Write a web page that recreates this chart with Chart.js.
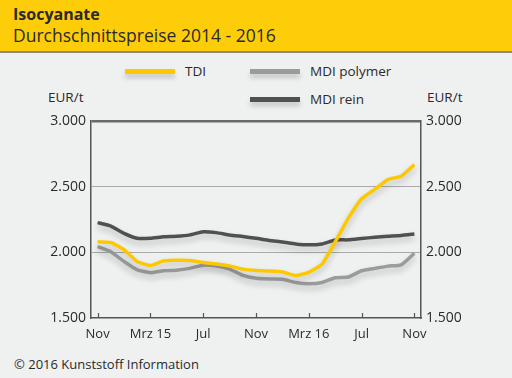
<!DOCTYPE html>
<html>
<head>
<meta charset="utf-8">
<script src="https://cdn.jsdelivr.net/npm/chart.js@4.4.0/dist/chart.umd.min.js"></script>
<style>
  html, body { margin: 0; padding: 0; }
  body { width: 512px; height: 378px; background: #eff1f0; position: relative; overflow: hidden;
         font-family: "Open Sans", "Noto Sans", sans-serif; color: #2a2a2a; }
  #head { position: absolute; left: 0; top: 0; width: 512px; height: 51px; background: #fecd0a;
          border-bottom: 2px solid #8c8a7c; }
  #t1 { position: absolute; left: 13px; top: 3px; font-size: 16px; font-weight: bold; }
  #t2 { position: absolute; left: 13px; top: 23px; font-size: 17.5px; }
  .lg { position: absolute; height: 5px; width: 50px; box-shadow: 0 4px 5px rgba(0,0,0,0.18); }
  .lt { position: absolute; font-size: 13.5px; line-height: 16px; }
  #foot { position: absolute; left: 14px; top: 355px; font-size: 13px; }
  #wrap { position: absolute; left: 0; top: 0; width: 512px; height: 378px; }
</style>
</head>
<body>
<div id="head"><div id="t1">Isocyanate</div><div id="t2">Durchschnittspreise 2014 - 2016</div></div>
<div class="lg" style="left:125px;top:69px;background:#fdc800"></div>
<div class="lt" style="left:185px;top:63px">TDI</div>
<div class="lg" style="left:250px;top:69px;background:#9b9b9b"></div>
<div class="lt" style="left:310px;top:63px">MDI polymer</div>
<div class="lg" style="left:250px;top:97px;background:#505050"></div>
<div class="lt" style="left:310px;top:91px">MDI rein</div>
<div class="lt" style="left:48px;top:89px">EUR/t</div>
<div class="lt" style="left:427px;top:89px">EUR/t</div>
<div id="foot">© 2016 Kunststoff Information</div>
<div id="wrap"><canvas id="c" width="512" height="378"></canvas></div>
<script>
const months = ["Nov", "Dez", "Jan", "Feb", "Mrz 15", "Apr", "Mai", "Jun", "Jul", "Aug", "Sep", "Okt",
  "Nov", "Dez", "Jan", "Feb", "Mrz 16", "Apr", "Mai", "Jun", "Jul", "Aug", "Sep", "Okt", "Nov"];
const shownTicks = [0, 4, 8, 12, 16, 20, 24];

const tdi = [2080, 2075, 2020, 1930, 1900, 1935, 1940, 1937, 1922, 1912, 1897, 1872,
  1862, 1858, 1850, 1824, 1848, 1910, 2080, 2260, 2408, 2480, 2555, 2580, 2668];
const mdiPolymer = [2043, 2005, 1930, 1866, 1845, 1860, 1864, 1878, 1902, 1896, 1872, 1825,
  1803, 1797, 1795, 1770, 1760, 1770, 1807, 1812, 1860, 1878, 1895, 1905, 1993];
const mdiRein = [2226, 2200, 2145, 2107, 2107, 2118, 2122, 2133, 2157, 2150, 2132, 2120,
  2107, 2090, 2079, 2064, 2057, 2064, 2094, 2095, 2105, 2115, 2122, 2128, 2140];

const fmt = (v) => v.toLocaleString("de-DE");

// soft drop shadow under the lines
const shadowPlugin = {
  id: "shadow",
  beforeDatasetDraw(chart) {
    const ctx = chart.ctx;
    ctx.save();
    ctx.shadowColor = "rgba(0,0,0,0.22)";
    ctx.shadowBlur = 6;
    ctx.shadowOffsetY = 4;
  },
  afterDatasetDraw(chart) {
    chart.ctx.restore();
  },
};

// small upward tick marks on the x axis
const tickMarks = {
  id: "tickMarks",
  afterDraw(chart) {
    const ctx = chart.ctx;
    const x = chart.scales.x;
    const b = chart.chartArea.bottom;
    ctx.save();
    ctx.strokeStyle = "#555";
    ctx.lineWidth = 1.2;
    shownTicks.forEach((i) => {
      const px = Math.round(x.getPixelForValue(i)) + 0.5;
      ctx.beginPath();
      ctx.moveTo(px, b - 5);
      ctx.lineTo(px, b);
      ctx.stroke();
    });
    ctx.restore();
  },
};

const yCommon = {
  min: 1500,
  max: 3000,
  ticks: {
    stepSize: 500,
    padding: 5,
    color: "#2a2a2a",
    font: { family: "Open Sans", size: 14 },
    callback: (v) => fmt(v),
  },
};

new Chart(document.getElementById("c"), {
  type: "line",
  data: {
    labels: months,
    datasets: [
      { label: "TDI", data: tdi, borderColor: "#fdc800" },
      { label: "MDI polymer", data: mdiPolymer, borderColor: "#9b9b9b" },
      { label: "MDI rein", data: mdiRein, borderColor: "#505050" },
    ],
  },
  options: {
    responsive: false,
    animation: false,
    layout: { padding: { top: 121, left: 0, right: 0, bottom: 0 } },
    elements: {
      line: { borderWidth: 3.5, tension: 0.15, borderCapStyle: "butt" },
      point: { radius: 0 },
    },
    plugins: { legend: { display: false }, tooltip: { enabled: false } },
    scales: {
      x: {
        offset: true,
        afterFit: (s) => { s.height = 60; },
        grid: { display: false, offset: false },
        border: { color: "#555", width: 1.5 },
        ticks: {
          autoSkip: false,
          maxRotation: 0,
          padding: 0,
          color: "#2a2a2a",
          font: { family: "Open Sans", size: 13 },
          callback: (v, i) => (shownTicks.includes(i) ? months[i] : ""),
        },
      },
      y: {
        ...yCommon,
        position: "left",
        afterFit: (s) => { s.width = 91; },
        border: { color: "#555", width: 1.5 },
        grid: {
          drawTicks: false,
          color: (c) => (c.tick.value === 3000 ? "#6a6a6a" : c.tick.value === 1500 ? "rgba(0,0,0,0)" : "#aaaaaa"),
          lineWidth: (c) => (c.tick.value === 3000 ? 2.5 : 1),
        },
      },
      y2: {
        ...yCommon,
        position: "right",
        afterFit: (s) => { s.width = 91; },
        border: { color: "#555", width: 1.5 },
        grid: { drawOnChartArea: false, drawTicks: false },
      },
    },
  },
  plugins: [shadowPlugin, tickMarks],
});
</script>
</body>
</html>
